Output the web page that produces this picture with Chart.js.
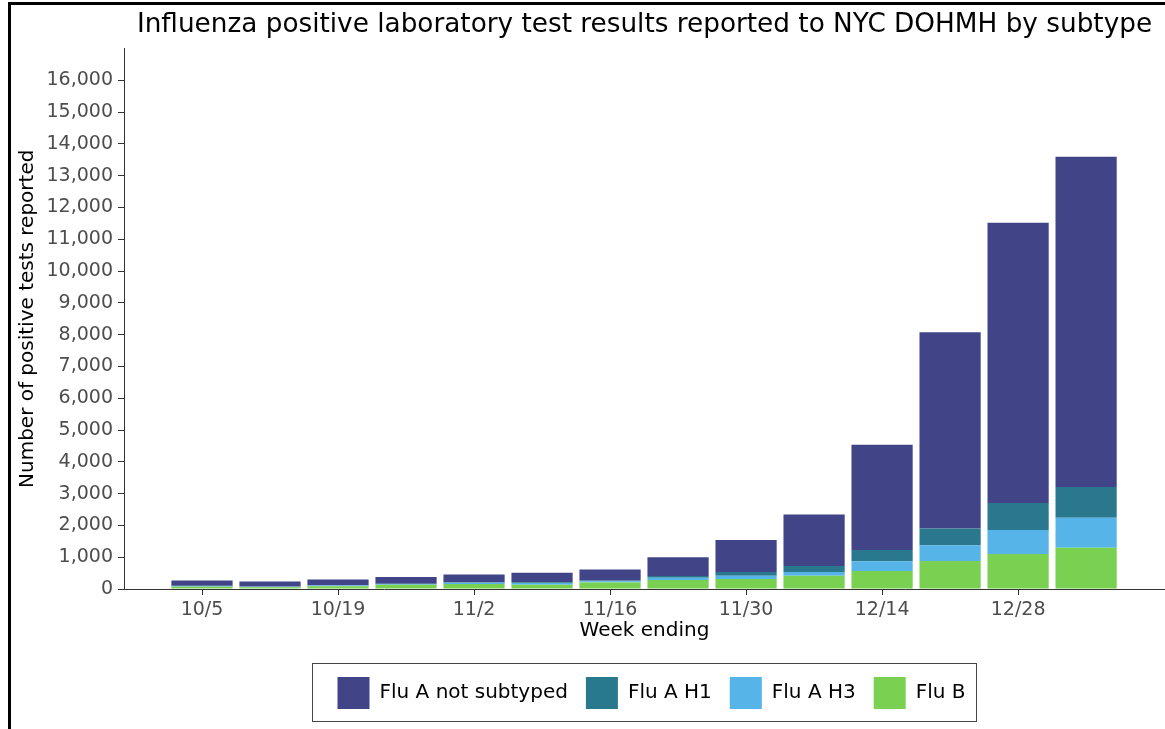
<!DOCTYPE html>
<html>
<head>
<meta charset="utf-8">
<script src="https://cdn.jsdelivr.net/npm/chart.js@4/dist/chart.umd.min.js"></script>
<style>
  html, body { margin: 0; padding: 0; background: #fff; }
  #wrap { position: relative; width: 1165px; height: 729px; }
  canvas { display: block; }
</style>
</head>
<body>
<div id="wrap"><canvas id="c" width="1165" height="729"></canvas></div>
<script>
// ---- data ----
const weeks = ['10/5','10/12','10/19','10/26','11/2','11/9','11/16','11/23','11/30','12/7','12/14','12/21','12/28','1/4'];
const fluB       = [70, 55, 90, 130, 160, 135, 205, 285, 315, 420, 566, 880, 1100, 1300];
const fluAH3     = [20, 15, 20, 25, 35, 50, 35, 65, 105, 115, 305, 495, 755, 945];
const fluAH1     = [10, 10, 10, 10, 15, 25, 25, 55, 115, 190, 355, 525, 850, 965];
const fluANotSub = [170, 155, 175, 215, 245, 305, 345, 590, 1005, 1620, 3314, 6180, 8815, 10390];
const yTickValues = [0,1000,2000,3000,4000,5000,6000,7000,8000,9000,10000,11000,12000,13000,14000,15000,16000];

const seriesNames = ['Flu B', 'Flu A H3', 'Flu A H1', 'Flu A not subtyped'];
const seriesValues = [fluB, fluAH3, fluAH1, fluANotSub];
const seriesColors = ['#7AD151', '#56B4E9', '#2A788E', '#414487'];

const FONT = "'DejaVu Sans', sans-serif";

const datasets = seriesNames.map((name, k) => ({
  label: name,
  data: seriesValues[k].map((v, i) => ({ x: i, y: v })),
  backgroundColor: seriesColors[k],
  borderWidth: 0,
  barPercentage: 0.9,
  categoryPercentage: 1.0
}));

const LEGEND_SHIFT = 7;

const framePlugin = {
  id: 'frame',
  afterLayout(chart) {
    const lg = chart.legend;
    if (lg) {
      lg.left += LEGEND_SHIFT;
      lg.right += LEGEND_SHIFT;
      (lg.legendHitBoxes || []).forEach(h => { h.left += LEGEND_SHIFT; });
    }
  },
  afterDraw(chart) {
    const ctx = chart.ctx;
    ctx.save();
    ctx.fillStyle = '#000';
    ctx.fillRect(8, 2, 3, 727);
    ctx.fillRect(8, 2, 1157, 3);
    // legend border
    const lg = chart.legend;
    if (lg && lg.legendHitBoxes && lg.legendHitBoxes.length) {
      const hb = lg.legendHitBoxes;
      const first = hb[0], last = hb[hb.length - 1];
      const x0 = first.left - 25;
      const x1 = last.left + last.width + 11;
      const y0 = first.top - 14;
      const y1 = first.top + first.height + 12;
      ctx.strokeStyle = '#444';
      ctx.lineWidth = 1;
      ctx.strokeRect(Math.round(x0) + 0.5, Math.round(y0) + 0.5, Math.round(x1 - x0), Math.round(y1 - y0));
    }
    ctx.restore();
  }
};

new Chart(document.getElementById('c'), {
  type: 'bar',
  data: { datasets },
  plugins: [framePlugin],
  options: {
    responsive: false,
    animation: false,
    layout: { padding: { left: 0, right: 0, top: 0, bottom: 10 } },
    plugins: {
      tooltip: { enabled: false },
      title: {
        display: true,
        text: 'Influenza positive laboratory test results reported to NYC DOHMH by subtype',
        fullSize: false,
        color: '#000',
        font: { family: FONT, size: 26.3, weight: 'normal' },
        padding: { top: 9, bottom: 8 }
      },
      legend: {
        position: 'bottom',
        fullSize: false,
        reverse: true,
        labels: {
          color: '#000',
          font: { family: FONT, size: 20 },
          boxWidth: 32,
          boxHeight: 32,
          padding: 18
        }
      }
    },
    scales: {
      x: {
        type: 'linear',
        stacked: true,
        min: -1.147,
        max: 14.16,
        offset: false,
        afterBuildTicks(scale) {
          scale.ticks = weeks.map((w, i) => ({ value: i })).filter(t => t.value % 2 === 0);
        },
        afterFit(scale) { scale.height = 70; },
        ticks: {
          color: '#4D4D4D',
          font: { family: FONT, size: 19 },
          padding: 4,
          maxRotation: 0,
          autoSkip: false,
          callback: (v) => weeks[v]
        },
        grid: { offset: false, drawOnChartArea: false, drawTicks: true, tickLength: 6, color: '#333' },
        border: { display: true, color: '#333', width: 1 },
        title: {
          display: true,
          text: 'Week ending',
          color: '#000',
          font: { family: FONT, size: 20 },
          padding: { top: 0, bottom: 16 }
        }
      },
      y: {
        stacked: true,
        min: 0,
        max: 17000,
        afterBuildTicks(scale) {
          scale.ticks = yTickValues.map(v => ({ value: v }));
        },
        afterFit(scale) { scale.width = 124; },
        ticks: {
          color: '#4D4D4D',
          font: { family: FONT, size: 19 },
          padding: 5,
          callback: (v) => v.toLocaleString('en-US')
        },
        grid: { drawOnChartArea: false, drawTicks: true, tickLength: 6, color: '#333' },
        border: { display: true, color: '#333', width: 1 },
        title: {
          display: true,
          text: 'Number of positive tests reported',
          color: '#000',
          font: { family: FONT, size: 20 },
          padding: { top: 16, bottom: 0 }
        }
      }
    }
  }
});
</script>
</body>
</html>
